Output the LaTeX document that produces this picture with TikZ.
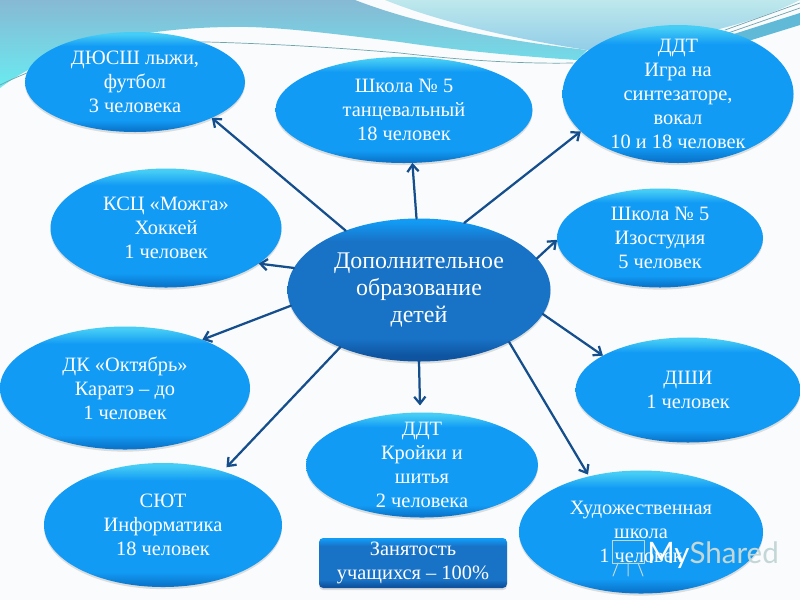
\documentclass[tikz,border=0pt]{standalone}
\usepackage{fontspec}
\setmainfont{Liberation Serif}
\setsansfont{Lato}
\usepackage{tikz}
\usetikzlibrary{arrows.meta,shapes.geometric,shadows}

\definecolor{padtop}{RGB}{70,205,245}
\definecolor{padmid}{RGB}{18,155,245}
\definecolor{paddark}{RGB}{10,118,205}
\definecolor{hubmid}{RGB}{24,114,198}
\definecolor{hubdark}{RGB}{14,84,160}
\definecolor{linkblue}{RGB}{20,78,140}
\definecolor{pagecol}{RGB}{250,251,252}
\definecolor{wavetop}{RGB}{135,185,212}
\definecolor{wavelow}{RGB}{105,235,240}
\definecolor{skytop}{RGB}{190,232,236}
\definecolor{skylow}{RGB}{145,205,232}
\definecolor{stripcol}{RGB}{95,185,215}
\definecolor{thincol}{RGB}{110,165,175}
\definecolor{markcol}{RGB}{195,215,215}

% the box of a shading is twice the path, so the stops run from 25bp to 75bp
\pgfdeclareverticalshading{padshade}{100bp}{color(0bp)=(paddark); color(26bp)=(paddark); color(31bp)=(padmid); color(68bp)=(padmid); color(74bp)=(padtop); color(100bp)=(padtop)}
\pgfdeclareverticalshading{hubshade}{100bp}{color(0bp)=(hubdark); color(27bp)=(hubdark); color(33bp)=(hubmid); color(67bp)=(hubmid); color(74bp)=(padmid); color(100bp)=(padmid)}

\tikzset{
  pad/.style={ellipse,shading=padshade,draw=none,text=white,align=center,inner sep=-10pt,outer sep=0pt,
    font=\fontsize{14.5}{17}\selectfont,drop shadow={opacity=.25,shadow xshift=0pt,shadow yshift=-1.5pt}},
  hub/.style={pad,shading=hubshade,font=\fontsize{17}{19}\selectfont},
  note/.style={rectangle,rounded corners=3pt,shading=hubshade,text=white,align=center,inner sep=0pt,outer sep=0pt,
    font=\fontsize{14.5}{17}\selectfont,drop shadow={opacity=.25,shadow xshift=0pt,shadow yshift=-1.5pt}},
  link/.style={draw=linkblue,line width=1.6pt,-{Straight Barb[length=5pt,width=8pt]}},
  thinline/.style={draw=thincol,line width=.5pt}
}

\begin{document}
\begin{tikzpicture}[line cap=round,line join=round,x=0.025cm,y=-0.025cm]
\useasboundingbox (0,0) rectangle (800,600);

% background and waves
\fill [pagecol] (0,0) rectangle (800,600);
\shade [top color=wavetop,bottom color=wavelow]
  (0,0) -- (355,0) .. controls (420,25) and (500,40) .. (587,50) -- (577,60)
  .. controls (500,55) and (440,48) .. (400,42) .. controls (320,32) and (270,26) .. (230,27)
  .. controls (130,28) and (50,50) .. (0,88) -- cycle;
\shade [top color=skytop,bottom color=skylow]
  (385,0) .. controls (440,22) and (510,38) .. (587,50) .. controls (640,45) and (730,35) .. (800,0) -- cycle;
\fill [stripcol] (715,40) -- (800,13) -- (800,25) -- (745,42) -- cycle;
\draw [thinline] (0,85) .. controls (60,55) and (140,40) .. (207,42) .. controls (280,44) and (340,48) .. (400,53) .. controls (460,60) and (520,64) .. (573,63);
\draw [thinline] (725,30) -- (800,3);
\draw [thinline] (728,33) -- (800,8);

% nodes
\node [hub,minimum width=263*0.025cm,minimum height=143*0.025cm] (hubnode) at (419,290) {Дополнительное\\образование\\детей};
\node [pad,minimum width=220*0.025cm,minimum height=100*0.025cm] (ski) at (135,82) {ДЮСШ лыжи,\\футбол\\3 человека};
\node [pad,minimum width=257*0.025cm,minimum height=106*0.025cm] (dance) at (404,110) {Школа № 5\\танцевальный\\18 человек};
\node [pad,minimum width=231*0.025cm,minimum height=138*0.025cm] (synth) at (678,94) {ДДТ\\Игра на\\синтезаторе,\\вокал\\10 и 18 человек};
\node [pad,minimum width=231*0.025cm,minimum height=119*0.025cm] (hockey) at (166,228) {КСЦ «Можга»\\Хоккей\\1 человек};
\node [pad,minimum width=206*0.025cm,minimum height=99*0.025cm] (izo) at (660,238) {Школа № 5\\Изостудия\\5 человек};
\node [pad,minimum width=250*0.025cm,minimum height=123*0.025cm] (karate) at (125,388) {ДК «Октябрь»\\Каратэ – до\\1 человек};
\node [pad,minimum width=225*0.025cm,minimum height=105*0.025cm] (dshi) at (688,390) {ДШИ\\1 человек};
\node [pad,minimum width=232*0.025cm,minimum height=105*0.025cm] (sewing) at (422,465) {ДДТ\\Кройки и\\шитья\\2 человека};
\node [pad,minimum width=238*0.025cm,minimum height=124*0.025cm] (info) at (163,525) {СЮТ\\Информатика\\18 человек};
\node [pad,minimum width=244*0.025cm,minimum height=123*0.025cm] (art) at (641,532) {Художественная\\школа\\1 человек};
\node [note,minimum width=188*0.025cm,minimum height=50*0.025cm] (total) at (413,563) {Занятость\\учащихся – 100\%};

% watermark
\draw [markcol,line width=.7pt] (612,540) rectangle (644,563);
\draw [markcol,line width=.7pt] (618,563) -- (613,576) (638,563) -- (643,576) (628,563) -- (628,576);
\node [font=\sffamily\fontsize{21}{21}\selectfont,inner sep=0pt] (mark) at (713,555) {\textcolor{white}{My}\textcolor{markcol}{Shared}};

% links
\draw [link] (hubnode.141.8) -- (ski.335.5);
\draw [link] (hubnode.170) -- (hockey.339.7);
\draw [link] (hubnode.187.4) -- (karate.32.8);
\draw [link,shorten >=4pt] (hubnode.216.5) -- (info.42.6);
\draw [link,shorten >=5pt] (hubnode.270) -- (sewing.92.9);
\draw [link,shorten >=1.5pt] (hubnode.330.6) -- (art.133.5);
\draw [link] (hubnode.349.2) -- (dshi.158.9);
\draw [link] (hubnode.15.7) -- (izo.181);
\draw [link] (hubnode.56.3) -- (synth.201.9);
\draw [link] (hubnode.92.4) -- (dance.279.6);
\end{tikzpicture}
\end{document}
